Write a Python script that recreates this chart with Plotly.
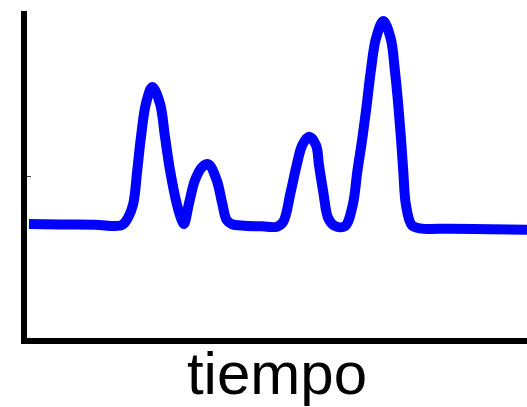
import plotly.graph_objects as go

# time (arbitrary units) and detector signal
tiempo = [0.99, 7.16, 14.12, 19.48, 20.74, 21.73, 22.52, 23.26, 24.25, 25.51,
          27.04, 28.03, 29.03, 30.36, 31.35, 31.81, 32.80, 34.00, 35.45, 36.64,
          38.31, 39.42, 40.30, 41.29, 43.94, 47.32, 50.30, 51.55, 53.02, 54.21,
          55.33, 56.66, 58.05, 58.65, 59.50, 60.50, 61.83, 63.82, 65.35, 66.26,
          67.26, 68.13, 68.93, 69.98, 71.43, 72.90, 73.76, 74.41, 74.95, 75.41,
          75.94, 77.08, 78.73, 84.69, 92.64, 100.0]
senal = [3.55, 3.54, 3.53, 3.52, 3.76, 4.17, 5.18, 6.19, 7.20, 7.70,
         7.20, 6.19, 5.18, 4.17, 3.67, 3.55, 4.17, 4.88, 5.28, 5.36,
         4.88, 4.17, 3.67, 3.55, 3.50, 3.48, 3.47, 3.62, 4.52, 5.33,
         5.94, 6.19, 5.94, 5.33, 4.52, 3.72, 3.49, 3.49, 4.12, 5.13,
         6.14, 7.15, 8.16, 9.17, 9.70, 9.17, 8.16, 7.15, 6.14, 5.13,
         4.12, 3.52, 3.42, 3.41, 3.39, 3.38]

y_ticks = [5, 10]

fig = go.Figure()
fig.add_trace(go.Scatter(
    x=tiempo, y=senal, mode="lines",
    line=dict(color="#0000ff", width=10, shape="spline", smoothing=1),
    hoverinfo="skip", showlegend=False,
))

fig.update_layout(
    width=527, height=407,
    margin=dict(l=27, r=0, t=11, b=69),
    paper_bgcolor="white", plot_bgcolor="white",
    font=dict(family="Liberation Sans, Arial, sans-serif", color="black"),
    xaxis=dict(
        range=[0.6, 100], showgrid=False, zeroline=False,
        showline=True, linecolor="black", linewidth=6,
        ticks="", showticklabels=False,
        title=dict(text="tiempo", font=dict(size=60, color="black"), standoff=18),
    ),
    yaxis=dict(
        range=[0.1, 10], showgrid=False, zeroline=False,
        showline=True, linecolor="black", linewidth=6,
        tickvals=y_ticks, ticks="inside", ticklen=4, tickwidth=1,
        tickcolor="#444", showticklabels=False,
    ),
)

fig.write_html("out.html", config={"displayModeBar": False},
               post_script="document.body.style.margin='0';")
